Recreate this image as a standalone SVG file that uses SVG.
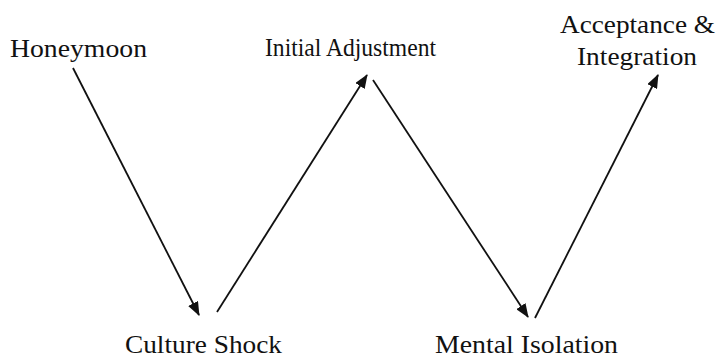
<svg xmlns="http://www.w3.org/2000/svg" width="719" height="358" viewBox="0 0 719 358">
<style>
.lbl{font-family:'Liberation Serif','Times New Roman',Times,serif;font-size:25px;fill:#111}
.arr{stroke:#111;stroke-width:1.8;fill:none;marker-end:url(#ah)}
</style>
<defs>
<marker id="ah" viewBox="0 0 14 11" refX="13" refY="5.5" markerWidth="14" markerHeight="11" markerUnits="userSpaceOnUse" orient="auto">
<path d="M0,0 L14,5.5 L0,11 z" fill="#111"/>
</marker>
</defs>
<rect width="719" height="358" fill="#fff"/>
<g id="connectors">
<line class="arr" x1="73" y1="68" x2="199" y2="315"/>
<line class="arr" x1="217" y1="312" x2="367" y2="75"/>
<line class="arr" x1="373" y1="80" x2="528" y2="317"/>
<line class="arr" x1="535" y1="318" x2="658" y2="75"/>
</g>
<g id="honeymoon"><text class="lbl" x="10" y="57" textLength="137" lengthAdjust="spacingAndGlyphs">Honeymoon</text></g>
<g id="initial-adjustment"><text class="lbl" x="265" y="56" textLength="171" lengthAdjust="spacingAndGlyphs">Initial Adjustment</text></g>
<g id="acceptance"><text class="lbl" x="560" y="33" textLength="155" lengthAdjust="spacingAndGlyphs">Acceptance &amp;</text><text class="lbl" x="577" y="65" textLength="120" lengthAdjust="spacingAndGlyphs">Integration</text></g>
<g id="culture-shock"><text class="lbl" x="125" y="353" textLength="157" lengthAdjust="spacingAndGlyphs">Culture Shock</text></g>
<g id="mental-isolation"><text class="lbl" x="435" y="353" textLength="183" lengthAdjust="spacingAndGlyphs">Mental Isolation</text></g>
</svg>
